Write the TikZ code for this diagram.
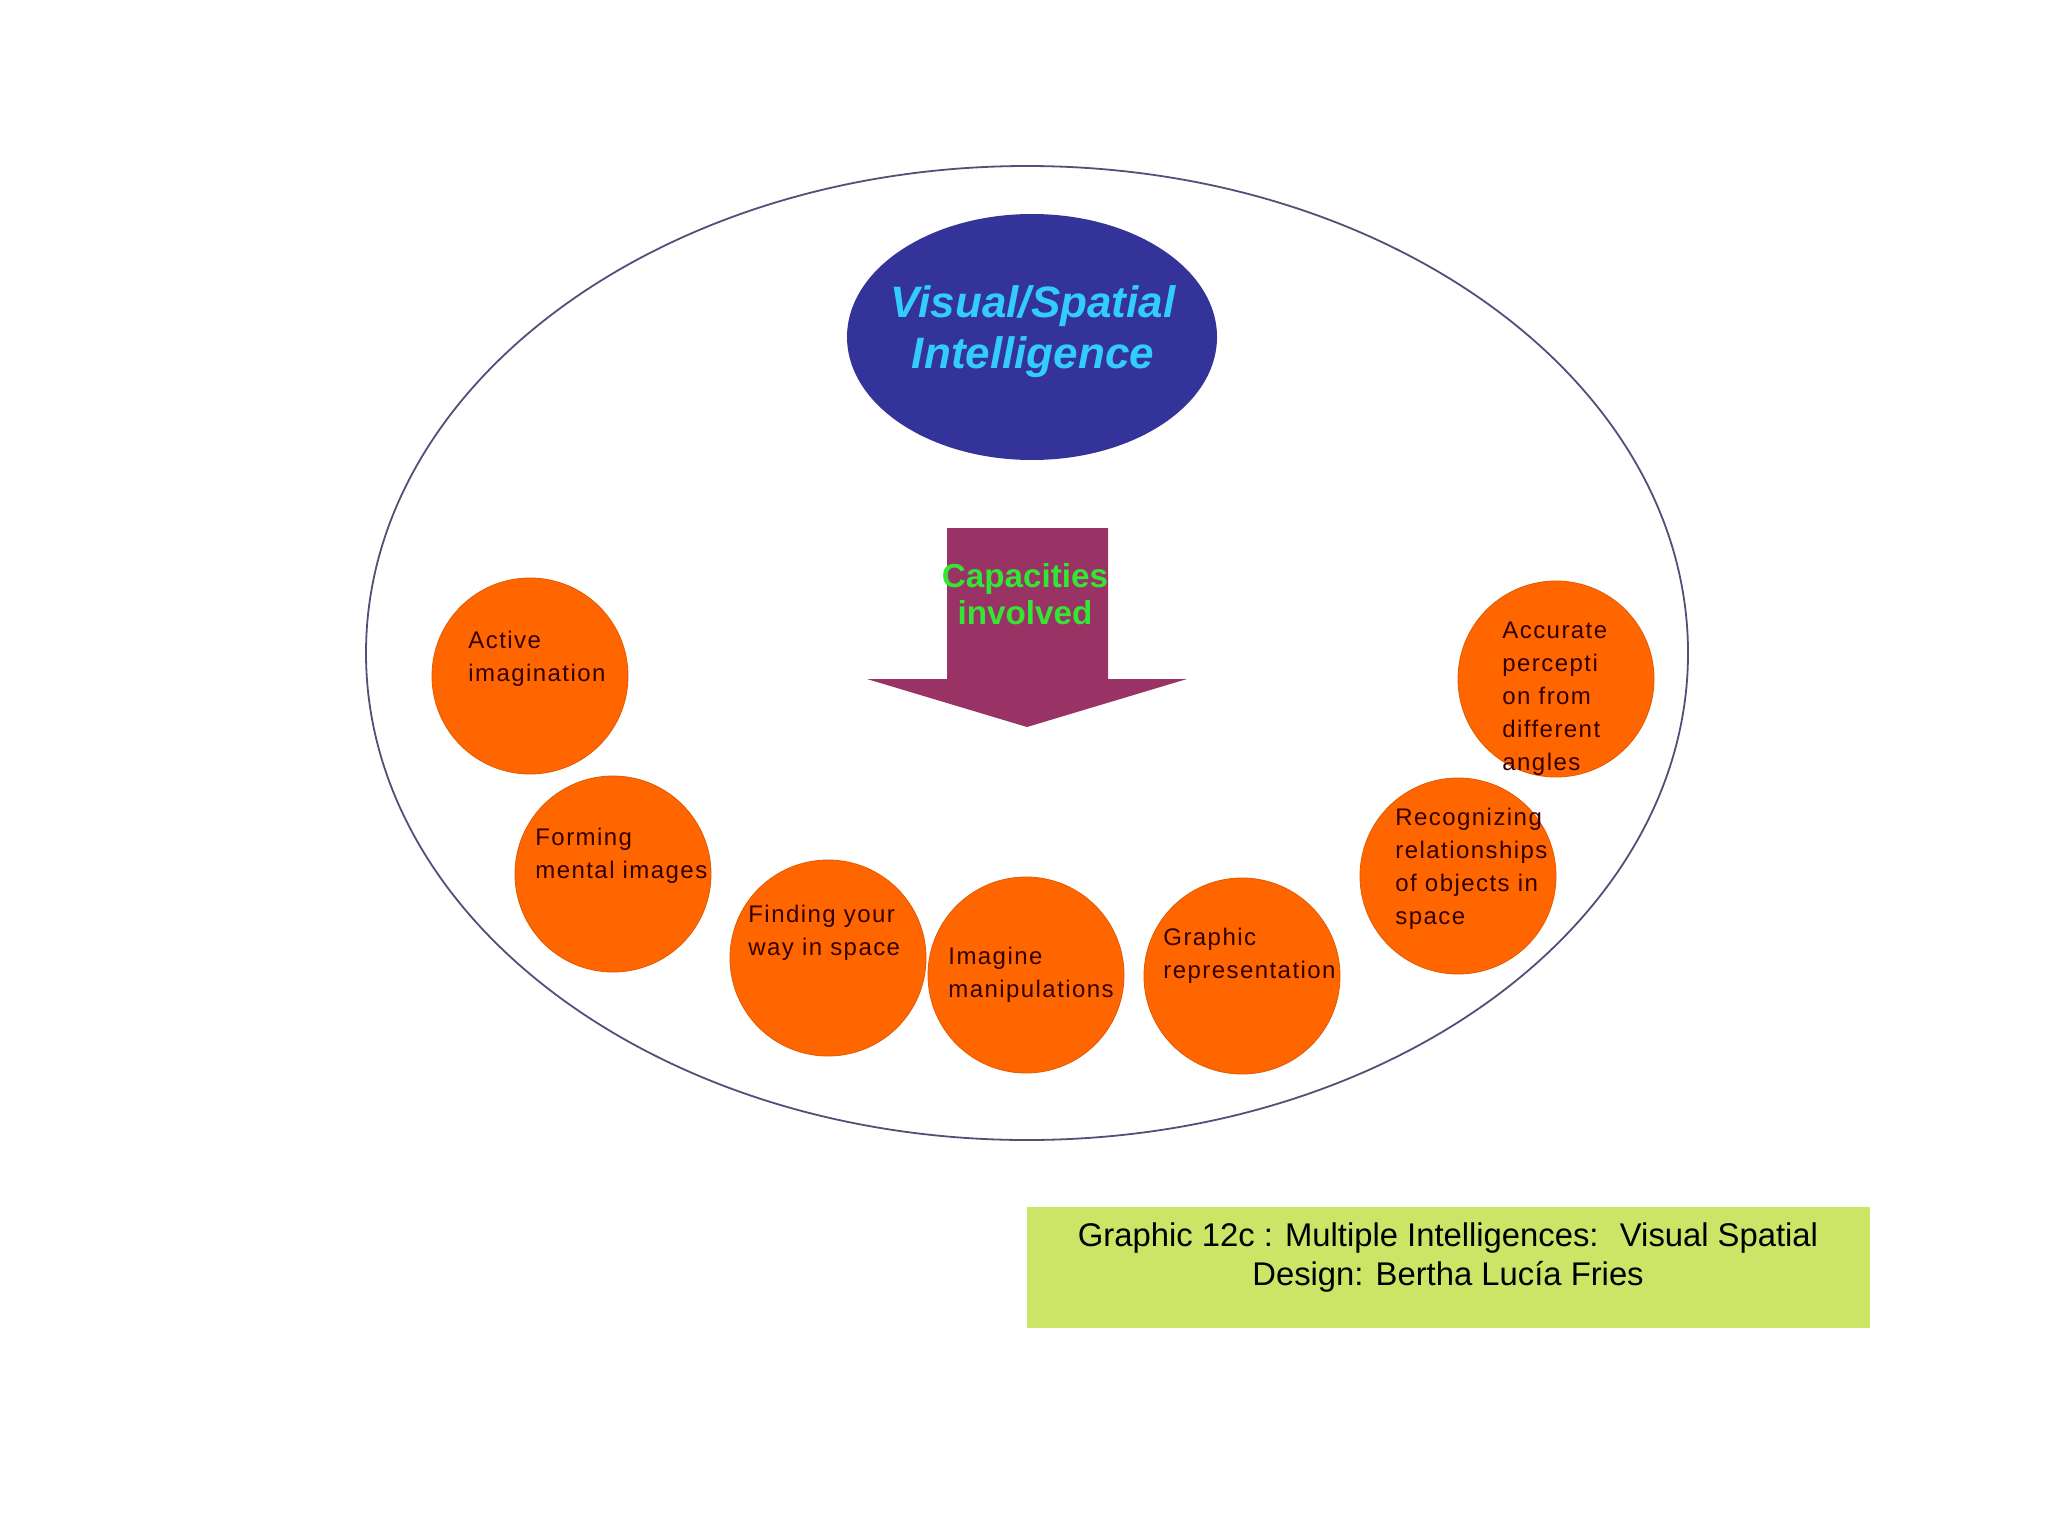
\documentclass[tikz,border=0pt]{standalone}
\usepackage{fontspec}
\setmainfont{Liberation Sans}
\newfontfamily\ballfont[LetterSpace=6]{Liberation Sans}
\usepackage{xcolor}
\usepackage{tikz}
\usetikzlibrary{positioning,shapes.geometric}
\definecolor{vsblue}{HTML}{333399}
\definecolor{vscyan}{HTML}{33CCFF}
\definecolor{vsplum}{HTML}{993366}
\definecolor{vsgreen}{HTML}{33E633}
\definecolor{vsorange}{HTML}{FF6600}
\definecolor{vslime}{HTML}{CCE566}
\definecolor{vsink}{HTML}{330000}
\definecolor{vsrim}{HTML}{505078}

\begin{document}
\begin{tikzpicture}[
  x=0.5pt, y=-0.5pt,
  rim/.style={draw=vsrim, line width=0.9pt, ellipse, inner sep=0pt},
  ball/.style={circle, fill=vsorange, draw=vsorange!88!black, line width=0.4pt, minimum size=98pt, inner sep=0pt},
  balltxt/.style={anchor=north west, align=left, inner sep=0pt, text=vsink, font=\ballfont\fontsize{12}{16.5}\selectfont},
  headtxt/.style={align=center, inner sep=0pt, text=vscyan, font=\bfseries\itshape\fontsize{22}{25.5}\selectfont},
  arrtxt/.style={align=center, inner sep=0pt, text=vsgreen, font=\bfseries\fontsize{16.6}{18.5}\selectfont},
  captxt/.style={align=center, inner sep=0pt, text=black, font=\fontsize{16.4}{19.5}\selectfont}
]
\useasboundingbox (0,0) rectangle (2048,1536);
\fill[white] (0,0) rectangle (2048,1536);

\node[rim, minimum width=661pt, minimum height=487pt] (frame) at (1027,653) {};

\node[ellipse, fill=vsblue, inner sep=0pt, minimum width=185pt, minimum height=123pt] (vsi) at (1032,337) {};
\node[headtxt] (vsitxt) at (1033,332) {Visual/Spatial\\Intelligence};

\fill[vsplum] (947,528) -- (1108,528) -- (1108,679) -- (1187,679) -- (1027,727)
  -- (867,679) -- (947,679) -- cycle;
\node[arrtxt] (cap) at (1025,594) {Capacities\\involved};

\node[ball] (c1) at (530,676) {};
\node[ball] (c2) at (613,874) {};
\node[ball] (c3) at (828,958) {};
\node[ball] (c4) at (1026,975) {};
\node[ball] (c5) at (1242,976) {};
\node[ball] (c6) at (1458,876) {};
\node[ball] (c7) at (1556,679) {};

\node[balltxt] (t1) at (468,631) {Active\\imagination};
\node[balltxt] (t2) at (535,828) {Forming\\mental images};
\node[balltxt] (t3) at (748,905) {Finding your\\way in space};
\node[balltxt] (t4) at (948,947) {Imagine\\manipulations};
\node[balltxt] (t5) at (1163,928) {Graphic\\representation};
\node[balltxt] (t6) at (1395,808) {Recognizing\\relationships\\of objects in\\space};
\node[balltxt] (t7) at (1502,622) {Accurate\\percepti\\on from\\different\\angles};

\node[fill=vslime, inner sep=0pt, minimum width=421.5pt, minimum height=60.5pt] (credit) at (1448.5,1267.5) {};
\node[captxt] (credittxt) at (1448,1257) {Graphic 12c : Multiple Intelligences:~ Visual Spatial\\Design: Bertha Lucía Fries};
\end{tikzpicture}
\end{document}
